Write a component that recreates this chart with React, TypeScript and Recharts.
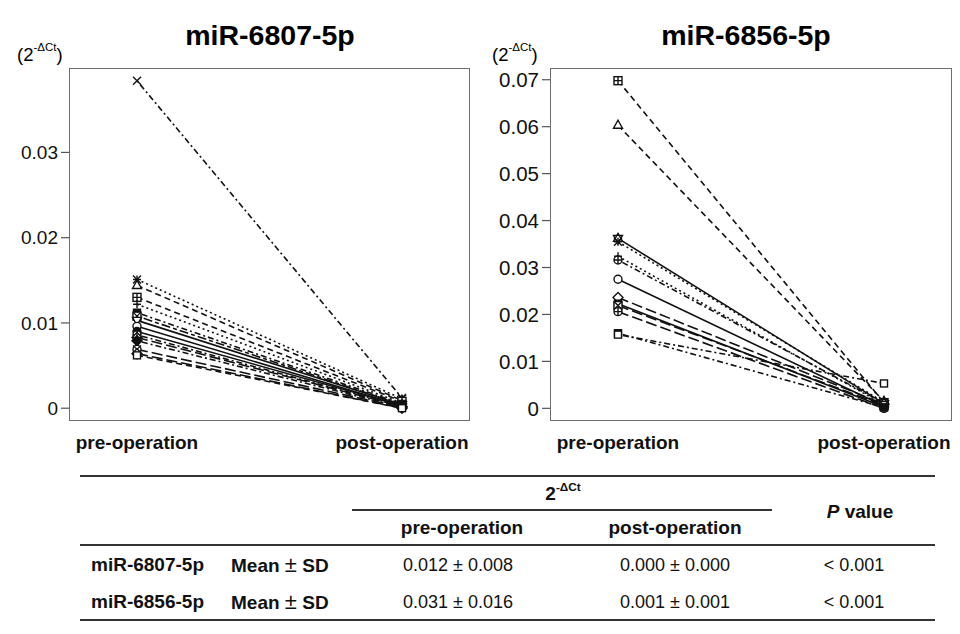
import React from "react";
import { LineChart, Line, XAxis, YAxis } from "recharts";

document.body.style.margin = "0";

const stages = ["pre-operation", "post-operation"];

// miR-6807-5p, one entry per patient
const mir6807Pre = [0.0384, 0.0151, 0.0144, 0.013, 0.0122, 0.0112, 0.0108, 0.0103, 0.0096, 0.009, 0.0086, 0.0083, 0.0079, 0.0069, 0.0064, 0.0062];
const mir6807Post = [0.0012, 0.0011, 0.0009, 0.0008, 0.0006, 0.0005, 0.0004, 0.0004, 0.0003, 0.0003, 0.0002, 0.0002, 0.0001, 0.0001, 0.0, 0.0];
const mir6807Shapes = ["x", "asterisk", "triangle", "squarePlus", "plus", "filledSquare", "squareX", "downTriangle", "circle", "filledCircle", "circlePlus", "diamondPlus", "filledDiamond", "circleX", "diamond", "square"];
const mir6807Dash = ["dotdash", "dotted", "dashed", "dashed", "dotted", "dotdash", "twodash", "solid", "solid", "solid", "dotdash", "longdash", "dotdash", "longdash", "longdash", "dashed"];

// miR-6856-5p
const mir6856Pre = [0.0698, 0.0603, 0.0362, 0.0355, 0.0324, 0.0316, 0.0275, 0.0236, 0.0223, 0.0219, 0.0206, 0.016, 0.0157];
const mir6856Post = [0.0012, 0.0015, 0.001, 0.0013, 0.0008, 0.0011, 0.0005, 0.0009, 0.0003, 0.0006, 0.0, 0.0002, 0.0053];
const mir6856Shapes = ["squarePlus", "triangle", "star", "asterisk", "plus", "circlePlus", "circle", "diamond", "filledSquare", "squareX", "circlePlus", "filledSquare", "square"];
const mir6856Dash = ["dashed", "dashed", "solid", "dotted", "dotted", "dotdash", "solid", "longdash", "solid", "longdash", "longdash", "dotdash", "dotdash"];

const ticks6807 = [0, 0.01, 0.02, 0.03];
const ticks6856 = [0, 0.01, 0.02, 0.03, 0.04, 0.05, 0.06, 0.07];

const FONT = '"Liberation Sans", Arial, sans-serif';

const dashes: Record<string, string | undefined> = {
  solid: undefined,
  dashed: "6 4",
  dotted: "2 3",
  dotdash: "2 3 6 3",
  longdash: "11 4",
  twodash: "4 3 9 3",
};

function buildRows(pre: number[], post: number[]) {
  return stages.map((stage, i) => {
    const row: Record<string, string | number> = { stage };
    pre.forEach((v, k) => {
      row["s" + k] = i === 0 ? v : post[k];
    });
    return row;
  });
}

function Marker({ cx, cy, shape }: { cx: number; cy: number; shape: string }) {
  const r = 4;
  const p = { stroke: "#111", strokeWidth: 1.4, fill: "#fff" };
  const f = { stroke: "#111", strokeWidth: 1.4, fill: "#111" };
  const plus = <path d={`M${cx - r},${cy}H${cx + r}M${cx},${cy - r}V${cy + r}`} stroke="#111" strokeWidth={1.4} />;
  const cross = <path d={`M${cx - r},${cy - r}L${cx + r},${cy + r}M${cx - r},${cy + r}L${cx + r},${cy - r}`} stroke="#111" strokeWidth={1.4} />;
  const tri = `${cx},${cy - r - 1} ${cx + r + 0.5},${cy + r - 1} ${cx - r - 0.5},${cy + r - 1}`;
  const dtri = `${cx},${cy + r + 1} ${cx + r + 0.5},${cy - r + 1} ${cx - r - 0.5},${cy - r + 1}`;
  const dia = `${cx},${cy - r - 1} ${cx + r + 1},${cy} ${cx},${cy + r + 1} ${cx - r - 1},${cy}`;
  switch (shape) {
    case "x":
      return <g>{cross}</g>;
    case "plus":
      return <g>{plus}</g>;
    case "asterisk":
      return <g>{plus}{cross}</g>;
    case "triangle":
      return <polygon points={tri} {...p} />;
    case "downTriangle":
      return <polygon points={dtri} {...p} />;
    case "star":
      return <g><polygon points={tri} {...p} /><polygon points={dtri} {...p} fill="none" /></g>;
    case "square":
      return <rect x={cx - r + 0.5} y={cy - r + 0.5} width={2 * r - 1} height={2 * r - 1} {...p} />;
    case "filledSquare":
      return <rect x={cx - r + 0.5} y={cy - r + 0.5} width={2 * r - 1} height={2 * r - 1} {...f} />;
    case "squarePlus":
      return <g><rect x={cx - r} y={cy - r} width={2 * r} height={2 * r} {...p} />{plus}</g>;
    case "squareX":
      return <g><rect x={cx - r} y={cy - r} width={2 * r} height={2 * r} {...p} />{cross}</g>;
    case "circle":
      return <circle cx={cx} cy={cy} r={r} {...p} />;
    case "filledCircle":
      return <circle cx={cx} cy={cy} r={r} {...f} />;
    case "circlePlus":
      return <g><circle cx={cx} cy={cy} r={r} {...p} />{plus}</g>;
    case "circleX":
      return <g><circle cx={cx} cy={cy} r={r} {...p} />{cross}</g>;
    case "diamond":
      return <polygon points={dia} {...p} />;
    case "filledDiamond":
      return <polygon points={dia} {...f} />;
    case "diamondPlus":
      return <g><polygon points={dia} {...p} />{plus}</g>;
    default:
      return <circle cx={cx} cy={cy} r={r} {...f} />;
  }
}

function DeltaCt({ size }: { size: number }) {
  return (
    <span>
      2<sup style={{ fontSize: size * 0.62, verticalAlign: "top", position: "relative", top: -3 }}>-ΔCt</sup>
    </span>
  );
}

type PanelProps = {
  title: string;
  left: number;
  pre: number[];
  post: number[];
  shapes: string[];
  lineDash: string[];
  ticks: number[];
  domain: [number, number];
  tickFont: number;
  marginLeft: number;
  marginRight: number;
  titleX: number;
};

function Panel(props: PanelProps) {
  const { title, left, pre, post, shapes, lineDash, ticks, domain, tickFont, marginLeft, marginRight, titleX } = props;
  const rows = buildRows(pre, post);
  const boxLeft = marginLeft + 60;
  const boxRight = 480 - marginRight;
  return (
    <div style={{ position: "absolute", left, top: 0, width: 480, height: 470 }}>
      <div
        style={{
          position: "absolute",
          left: titleX - 200,
          width: 400,
          top: 19,
          textAlign: "center",
          fontFamily: FONT,
          fontWeight: 700,
          fontSize: 28.5,
        }}
      >
        {title}
      </div>
      <div style={{ position: "absolute", left: left === 0 ? 17 : 12, top: 44, fontFamily: FONT, fontSize: 18.5 }}>
        (<DeltaCt size={18.5} />)
      </div>
      <LineChart
        width={480}
        height={470}
        data={rows}
        margin={{ top: 68, right: marginRight, bottom: 9, left: marginLeft }}
      >
        <XAxis
          dataKey="stage"
          axisLine={false}
          tickLine={false}
          tickSize={0}
          tickMargin={15}
          height={40}
          padding={{ left: 68, right: 68 }}
          tick={{ fill: "#111", fontSize: 19, fontWeight: 700, fontFamily: FONT }}
        />
        <YAxis
          width={60}
          domain={domain}
          allowDataOverflow
          ticks={ticks}
          interval={0}
          axisLine={false}
          tickSize={8}
          tickMargin={3}
          tickLine={{ stroke: "#555", strokeWidth: 1.2 }}
          tickFormatter={(v: number) => (v === 0 ? "0" : String(v))}
          tick={{ fill: "#111", fontSize: tickFont, fontFamily: FONT }}
        />
        {pre.map((_, k) => (
          <Line
            key={"s" + k}
            dataKey={"s" + k}
            type="linear"
            stroke="#111"
            strokeWidth={1.6}
            strokeDasharray={dashes[lineDash[k]]}
            isAnimationActive={false}
            activeDot={false}
            dot={(dp: any) => <Marker key={`m${k}-${dp.index}`} cx={dp.cx} cy={dp.cy} shape={shapes[k]} />}
          />
        ))}
      </LineChart>
      <div
        style={{
          position: "absolute",
          left: boxLeft,
          top: 68,
          width: boxRight - boxLeft,
          height: 353,
          border: "1.5px solid #6e6e6e",
          boxSizing: "border-box",
          pointerEvents: "none",
        }}
      />
    </div>
  );
}

const tableRows = ["miR-6807-5p", "miR-6856-5p"];
const tableStat = ["Mean ± SD", "Mean ± SD"];
const tablePre = ["0.012 ± 0.008", "0.031 ± 0.016"];
const tablePost = ["0.000 ± 0.000", "0.001 ± 0.001"];
const tableP = ["< 0.001", "< 0.001"];

function Txt({ x, y, children, bold, size = 18, anchor = "middle" }: any) {
  const shift = anchor === "middle" ? "-50%" : "0";
  return (
    <div
      style={{
        position: "absolute",
        left: x,
        top: y,
        transform: `translate(${shift}, -50%)`,
        whiteSpace: "nowrap",
        fontFamily: FONT,
        fontWeight: bold ? 700 : 400,
        fontSize: size,
        color: "#111",
      }}
    >
      {children}
    </div>
  );
}

function Rule({ x1, x2, y, w = 2 }: { x1: number; x2: number; y: number; w?: number }) {
  return <div style={{ position: "absolute", left: x1, top: y - w / 2, width: x2 - x1, height: w, background: "#333" }} />;
}

function SummaryTable() {
  const rowY = [565, 602];
  return (
    <>
      <Rule x1={80} x2={935} y={476} />
      <Txt x={563} y={494} bold size={19}>
        <DeltaCt size={19} />
      </Txt>
      <Rule x1={352} x2={772} y={510} w={1.5} />
      <Txt x={860} y={512} bold size={19}>
        <i>P</i> value
      </Txt>
      <Txt x={462} y={528} bold size={19}>pre-operation</Txt>
      <Txt x={675} y={528} bold size={19}>post-operation</Txt>
      <Rule x1={80} x2={935} y={545} />
      {tableRows.map((name, i) => (
        <React.Fragment key={name}>
          <Txt x={91} y={rowY[i]} bold size={19} anchor="start">{name}</Txt>
          <Txt x={231} y={rowY[i]} bold size={19} anchor="start">
            Mean <span style={{ fontSize: 22, fontWeight: 400 }}>±</span> SD
          </Txt>
          <Txt x={458} y={rowY[i]}>{tablePre[i]}</Txt>
          <Txt x={675} y={rowY[i]}>{tablePost[i]}</Txt>
          <Txt x={854} y={rowY[i]}>{tableP[i]}</Txt>
        </React.Fragment>
      ))}
      <Rule x1={80} x2={935} y={620} />
    </>
  );
}

export default function App() {
  return (
    <div style={{ position: "relative", width: 960, height: 634, background: "#fff", overflow: "hidden" }}>
      <Panel
        title="miR-6807-5p"
        left={0}
        pre={mir6807Pre}
        post={mir6807Post}
        shapes={mir6807Shapes}
        lineDash={mir6807Dash}
        ticks={ticks6807}
        domain={[-0.0015, 0.0399]}
        tickFont={19}
        marginLeft={9}
        marginRight={10}
        titleX={270}
      />
      <Panel
        title="miR-6856-5p"
        left={480}
        pre={mir6856Pre}
        post={mir6856Post}
        shapes={mir6856Shapes}
        lineDash={mir6856Dash}
        ticks={ticks6856}
        domain={[-0.0027, 0.0725]}
        tickFont={20.5}
        marginLeft={10}
        marginRight={8}
        titleX={266}
      />
      <SummaryTable />
    </div>
  );
}
